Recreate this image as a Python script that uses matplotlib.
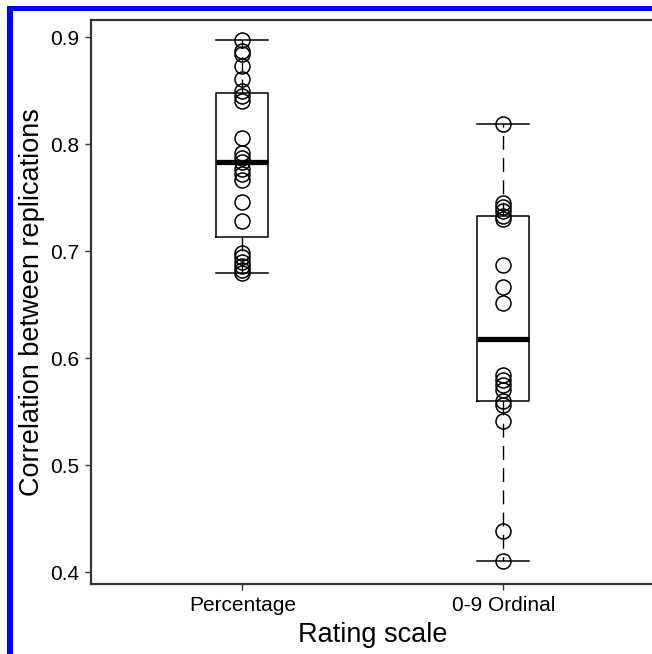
import numpy as np
import matplotlib
matplotlib.use('Agg')
import matplotlib.pyplot as plt
from matplotlib.patches import Rectangle

# Data
###############################################################################
categories = ['Percentage', '0-9 Ordinal']
percentage = [0.897, 0.887, 0.884, 0.873, 0.861, 0.850, 0.845, 0.840, 0.806,
              0.792, 0.787, 0.783, 0.777, 0.772, 0.766, 0.746, 0.728, 0.698,
              0.694, 0.690, 0.686, 0.682, 0.679]
ordinal = [0.819, 0.745, 0.741, 0.737, 0.733, 0.730, 0.687, 0.666, 0.651,
           0.584, 0.579, 0.575, 0.570, 0.560, 0.556, 0.541, 0.438, 0.410]
yticks = [0.4, 0.5, 0.6, 0.7, 0.8, 0.9]

plt.rcParams['font.family'] = ['Liberation Sans', 'DejaVu Sans']


def fivenum_stats(values, label):
    # R style hinges (fivenum) with 1.5 IQR whiskers
    x = np.sort(np.asarray(values))
    n = len(x)
    n4 = np.floor((n + 3) / 2) / 2
    d = np.array([1, n4, (n + 1) / 2, n + 1 - n4, n])
    fn = 0.5 * (x[np.floor(d).astype(int) - 1] + x[np.ceil(d).astype(int) - 1])
    iqr = fn[3] - fn[1]
    lo = x[x >= fn[1] - 1.5 * iqr].min()
    hi = x[x <= fn[3] + 1.5 * iqr].max()
    return dict(label=label, q1=fn[1], med=fn[2], q3=fn[3],
                whislo=lo, whishi=hi, fliers=[])


# Figure
###############################################################################
fig = plt.figure(figsize=(6.52, 6.54), dpi=100)
# axes run past the right edge of the picture (cropped original)
ax = fig.add_axes([91 / 652, 70 / 654, 572 / 652, 564 / 654])

groups = [percentage, ordinal]
stats = [fivenum_stats(g, c) for g, c in zip(groups, categories)]
positions = [1, 2]

ax.bxp(stats, positions=positions, widths=0.2, capwidths=0.2,
       showfliers=False,
       boxprops=dict(color='black', linewidth=1.1),
       medianprops=dict(color='black', linewidth=3.8, solid_capstyle='butt'),
       whiskerprops=dict(color='black', linewidth=1.0,
                         linestyle=(0, (10, 6))),
       capprops=dict(color='black', linewidth=1.1))

for pos, g in zip(positions, groups):
    ax.plot([pos] * len(g), g, 'o', mfc='none', mec='black', ms=10.8,
            mew=1.1, zorder=3)

ax.set_xlim(0.42, 0.42 + 572 / 261)
ax.set_ylim(0.3888, 0.9159)
ax.set_yticks(yticks)
ax.set_yticklabels(['%.1f' % t for t in yticks])
ax.set_xticks(positions)
ax.set_xticklabels(categories)
ax.tick_params(axis='both', direction='out', length=4.5, width=1.0,
               color='#333333', labelsize=15, pad=4)
for s in ax.spines.values():
    s.set_color('#333333')
    s.set_linewidth(1.6)

ax.set_xlabel('Rating scale', fontsize=19.5)
ax.xaxis.set_label_coords(282 / 572, -0.067)
ax.set_ylabel('Correlation between replications', fontsize=19.5)
ax.yaxis.set_label_coords(-0.080, 0.5)

# blue frame along top and left edge
fig.add_artist(Rectangle((7 / 652, 0), 6 / 652, 648 / 654,
                         transform=fig.transFigure, color='#0000ff', lw=0))
fig.add_artist(Rectangle((7 / 652, 643 / 654), 645 / 652, 5 / 654,
                         transform=fig.transFigure, color='#0000ff', lw=0))

fig.savefig('out.png', dpi=100)
